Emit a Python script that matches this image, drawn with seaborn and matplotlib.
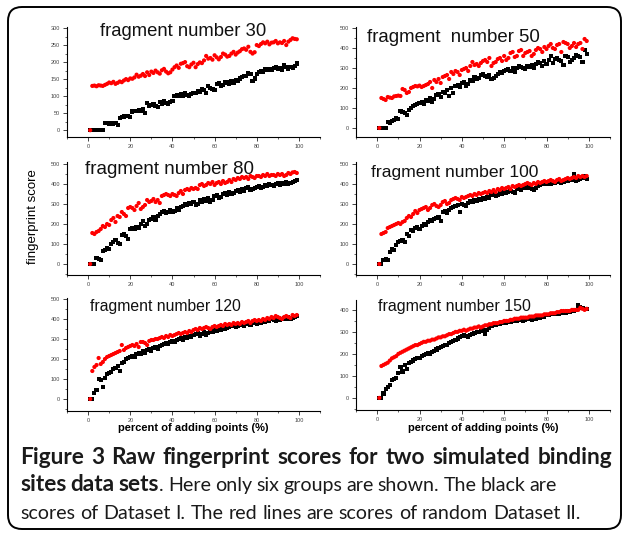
import matplotlib
matplotlib.use("Agg")
import matplotlib.pyplot as plt
import numpy as np
import pandas as pd
import seaborn as sns
from matplotlib.patches import FancyBboxPatch
from matplotlib.transforms import IdentityTransform
from matplotlib.ticker import MultipleLocator

W, H = 624, 533

# ---------------- data ----------------
x_percent = list(range(1, 100))

frag30_set1 = [0, 0, 0, 0, 0, 0, 0, 20, 22, 19,
               20, 18, 22, 15, 35, 38, 40, 41, 42, 38,
               55, 57, 56, 60, 58, 62, 50, 80, 72, 75,
               78, 70, 68, 82, 78, 85, 80, 78, 82, 85,
               100, 103, 102, 105, 100, 108, 104, 102, 106, 110,
               108, 115, 112, 120, 118, 110, 130, 125, 122, 118,
               135, 138, 130, 132, 140, 142, 136, 145, 140, 148,
               145, 152, 155, 158, 160, 168, 165, 145, 152, 165,
               170, 175, 172, 178, 176, 180, 178, 182, 185, 180,
               183, 178, 192, 185, 180, 186, 182, 188, 196]
frag30_set2 = [0, 130, 131, 129, 132, 131, 130, 133, 136, 140,
               138, 142, 136, 139, 143, 141, 146, 150, 147, 152,
               151, 155, 163, 157, 160, 165, 159, 170, 162, 172,
               168, 175, 170, 166, 176, 180, 172, 167, 170, 178,
               185, 190, 183, 195, 197, 200, 188, 185, 193, 198,
               185, 194, 199, 197, 205, 218, 210, 212, 207, 220,
               214, 208, 215, 225, 222, 216, 218, 225, 230, 222,
               228, 232, 238, 240, 236, 245, 230, 225, 229, 250,
               247, 253, 258, 255, 260, 252, 257, 258, 262, 255,
               258, 256, 262, 250, 260, 265, 270, 268, 267]

frag50_set1 = [0, 0, 0, 0, 30, 25, 35, 40, 50, 45,
               85, 80, 75, 65, 90, 100, 110, 115, 120, 125,
               130, 120, 140, 135, 150, 130, 145, 165, 170, 155,
               180, 175, 190, 160, 200, 175, 210, 215, 205, 225,
               230, 210, 220, 240, 235, 255, 245, 250, 265, 270,
               260, 255, 265, 245, 250, 260, 270, 280, 275, 285,
               290, 295, 285, 300, 280, 300, 310, 305, 300, 295,
               310, 305, 315, 300, 320, 330, 325, 310, 335, 320,
               340, 360, 325, 345, 350, 340, 335, 315, 360, 355,
               330, 340, 350, 365, 360, 355, 330, 390, 370]
frag50_set2 = [0, 150, 145, 140, 155, 152, 150, 158, 160, 162,
               160, 195, 190, 175, 180, 200, 205, 210, 208, 212,
               205, 210, 215, 220, 230, 200, 240, 230, 245, 225,
               255, 260, 265, 245, 280, 270, 285, 280, 265, 290,
               295, 300, 285, 310, 330, 315, 320, 310, 325, 335,
               340, 330, 350, 310, 325, 330, 345, 350, 335, 360,
               340, 350, 375, 380, 355, 360, 385, 390, 360, 375,
               380, 385, 360, 370, 390, 400, 395, 380, 405, 395,
               410, 420, 400, 395, 415, 420, 380, 430, 425, 420,
               400, 410, 425, 405, 420, 425, 395, 445, 435]

frag80_set1 = [0, 0, 0, 30, 25, 20, 65, 70, 80, 75,
               100, 110, 120, 105, 100, 145, 150, 140, 125, 175,
               180, 175, 185, 180, 200, 215, 190, 200, 220, 225,
               235, 220, 240, 250, 260, 265, 255, 260, 270, 260,
               265, 280, 270, 285, 290, 300, 295, 305, 300, 310,
               295, 300, 320, 310, 325, 315, 330, 310, 320, 340,
               345, 330, 335, 350, 355, 345, 360, 350, 355, 365,
               370, 360, 375, 365, 380, 385, 370, 375, 380, 385,
               390, 380, 385, 395, 390, 400, 395, 390, 400, 405,
               395, 405, 400, 410, 400, 405, 410, 415, 420]
frag80_set2 = [0, 155, 150, 160, 165, 175, 190, 185, 200, 195,
               220, 230, 210, 240, 235, 260, 250, 240, 280, 285,
               280, 270, 290, 305, 275, 285, 295, 320, 310, 315,
               325, 310, 320, 305, 340, 345, 350, 345, 340, 350,
               345, 340, 355, 365, 350, 370, 375, 370, 380, 375,
               380, 375, 395, 400, 390, 395, 405, 400, 410, 395,
               405, 410, 400, 415, 405, 410, 420, 410, 425, 420,
               430, 425, 435, 430, 435, 425, 440, 435, 430, 440,
               440, 435, 445, 440, 450, 440, 445, 445, 440, 450,
               445, 450, 440, 445, 455, 450, 458, 460, 455]

frag100_set1 = [0, 0, 20, 25, 20, 60, 75, 70, 95, 110,
                115, 120, 110, 150, 140, 170, 165, 180, 185, 175,
                190, 200, 195, 210, 220, 215, 225, 230, 235, 215,
                260, 265, 255, 270, 280, 285, 290, 295, 260, 300,
                295, 290, 305, 315, 310, 320, 315, 325, 320, 330,
                325, 335, 330, 345, 350, 340, 345, 355, 350, 360,
                355, 360, 365, 360, 355, 375, 380, 370, 385, 380,
                385, 380, 375, 370, 380, 390, 395, 400, 405, 400,
                405, 400, 410, 405, 410, 415, 405, 410, 420, 415,
                425, 420, 450, 415, 420, 425, 430, 440, 425]
frag100_set2 = [0, 150, 155, 160, 180, 185, 190, 195, 200, 205,
                200, 210, 215, 230, 240, 235, 250, 265, 255, 270,
                275, 280, 285, 270, 280, 295, 300, 290, 285, 295,
                310, 315, 300, 305, 320, 325, 330, 325, 320, 335,
                330, 335, 340, 345, 340, 350, 345, 355, 350, 355,
                360, 355, 365, 360, 370, 360, 375, 370, 380, 375,
                380, 385, 375, 390, 385, 390, 395, 390, 395, 400,
                405, 400, 395, 405, 400, 410, 405, 410, 415, 410,
                415, 420, 415, 410, 420, 425, 415, 420, 425, 430,
                425, 430, 435, 430, 440, 435, 440, 435, 440]

frag120_set1 = [0, 0, 30, 45, 100, 95, 60, 105, 125, 130,
                135, 150, 155, 165, 140, 180, 185, 200, 205, 210,
                215, 210, 225, 230, 225, 240, 230, 245, 250, 240,
                255, 260, 250, 265, 270, 275, 280, 275, 285, 290,
                285, 295, 300, 305, 295, 310, 305, 315, 310, 320,
                325, 330, 315, 325, 335, 320, 330, 340, 335, 345,
                340, 350, 345, 355, 350, 355, 360, 365, 370, 360,
                365, 370, 375, 365, 375, 380, 370, 380, 385, 375,
                385, 380, 390, 385, 395, 390, 400, 395, 390, 405,
                395, 400, 405, 400, 410, 400, 405, 410, 415]
frag120_set2 = [0, 140, 160, 170, 205, 175, 185, 200, 210, 215,
                220, 225, 230, 235, 240, 270, 245, 255, 260, 265,
                270, 265, 275, 260, 285, 285, 280, 270, 290, 295,
                295, 300, 300, 305, 310, 305, 315, 310, 320, 315,
                320, 325, 330, 325, 330, 335, 330, 340, 335, 345,
                350, 345, 355, 350, 355, 360, 355, 350, 360, 365,
                360, 365, 370, 365, 375, 370, 375, 370, 380, 375,
                380, 375, 385, 380, 385, 390, 380, 390, 395, 390,
                395, 390, 400, 395, 405, 400, 410, 405, 415, 410,
                405, 400, 410, 415, 410, 405, 420, 415, 420]

frag150_set1 = [0, 0, 20, 40, 50, 60, 80, 85, 90, 115,
                140, 120, 150, 130, 160, 165, 170, 175, 180, 180,
                190, 195, 200, 205, 200, 210, 215, 220, 225, 230,
                235, 240, 240, 250, 255, 260, 265, 270, 275, 280,
                285, 280, 275, 285, 290, 295, 300, 300, 305, 310,
                290, 310, 320, 325, 330, 330, 335, 335, 340, 340,
                340, 345, 345, 350, 350, 350, 355, 355, 350, 355,
                360, 360, 355, 365, 360, 365, 365, 370, 370, 375,
                375, 380, 380, 380, 385, 380, 385, 390, 385, 395,
                390, 395, 395, 400, 420, 415, 410, 405, 405]
frag150_set2 = [0, 145, 150, 155, 160, 170, 180, 185, 190, 200,
                205, 210, 215, 220, 225, 230, 235, 240, 240, 245,
                250, 255, 255, 260, 260, 265, 265, 270, 275, 275,
                280, 280, 285, 290, 290, 295, 300, 300, 305, 305,
                310, 305, 310, 315, 315, 320, 320, 325, 320, 325,
                330, 330, 335, 335, 340, 340, 340, 345, 345, 350,
                350, 350, 355, 355, 360, 360, 360, 365, 365, 365,
                365, 370, 370, 370, 375, 375, 375, 375, 380, 380,
                380, 385, 385, 385, 390, 390, 395, 395, 395, 395,
                395, 400, 400, 400, 400, 410, 405, 400, 405]

panel_titles = ["fragment number 30", "fragment  number 50", "fragment number 80",
                "fragment number 100", "fragment number 120", "fragment number 150"]
panel_set1 = [frag30_set1, frag50_set1, frag80_set1, frag100_set1, frag120_set1, frag150_set1]
panel_set2 = [frag30_set2, frag50_set2, frag80_set2, frag100_set2, frag120_set2, frag150_set2]
x_ticks = [0, 20, 40, 60, 80, 100]
x_label = "percent of adding points (%)"
y_label = "fingerprint score"
set_names = ["Dataset I", "Dataset II"]

caption_line1 = "Figure 3 Raw fingerprint scores for two simulated binding"
caption_line2_bold = "sites data sets"
caption_line2_rest = ". Here only six groups are shown. The black are"
caption_line3 = "scores of Dataset I. The red lines are scores of random Dataset II."

# ---------------- layout (pixels: left, top, right, bottom) ----------------
layout = [
    dict(rect=(67, 27, 320, 137), ylim=(-20, 303), ystep=50, title=(100, 31, 13.3)),
    dict(rect=(356, 27, 610, 137), ylim=(-45, 505), ystep=100, title=(367, 37, 13.4)),
    dict(rect=(67, 162, 320, 275), ylim=(-55, 510), ystep=100, title=(85, 169, 13.5)),
    dict(rect=(356, 162, 610, 275), ylim=(-55, 510), ystep=100, title=(371, 173, 12.6)),
    dict(rect=(67, 298, 320, 411), ylim=(-60, 505), ystep=100, title=(90, 307, 11.3)),
    dict(rect=(356, 300, 610, 410), ylim=(-55, 445), ystep=100, title=(378, 306, 11.5)),
]

sns.set_style("ticks")
plt.rcParams['font.family'] = ['Liberation Sans', 'DejaVu Sans']

fig = plt.figure(figsize=(W / 100, H / 100), dpi=100)
fig.patch.set_facecolor("white")


def fx(px):
    return px / W


def fy(py):
    return 1 - py / H


palette = {set_names[0]: "black", set_names[1]: "red"}
markers = {set_names[0]: "s", set_names[1]: "o"}

for i, lay in enumerate(layout):
    l, t, r, b = lay["rect"]
    ax = fig.add_axes([fx(l), fy(b), (r - l) / W, (b - t) / H])
    df = pd.DataFrame({
        "x": x_percent + x_percent,
        "score": panel_set1[i] + panel_set2[i],
        "set": [set_names[0]] * len(x_percent) + [set_names[1]] * len(x_percent),
    })
    sns.scatterplot(data=df, x="x", y="score", hue="set", style="set",
                    palette=palette, markers=markers, s=9, linewidth=0,
                    legend=False, ax=ax, zorder=3)
    ax.set_xlim(-10, 110)
    ax.set_ylim(*lay["ylim"])
    ax.set_xticks(x_ticks)
    ax.xaxis.set_minor_locator(MultipleLocator(10))
    ax.yaxis.set_major_locator(MultipleLocator(lay["ystep"]))
    ax.yaxis.set_minor_locator(MultipleLocator(lay["ystep"] / 2))
    ax.set_xlabel("")
    ax.set_ylabel("")
    ax.set_facecolor("white")
    for s in ["top", "right"]:
        ax.spines[s].set_visible(False)
    for s in ["left", "bottom"]:
        ax.spines[s].set_linewidth(0.8)
        ax.spines[s].set_color("black")
    ax.tick_params(which="major", direction="out", length=3, width=0.6,
                   labelsize=4, labelcolor="#444", pad=2)
    ax.tick_params(which="minor", direction="out", length=1.6, width=0.5)
    tx, ty, ts = lay["title"]
    fig.text(fx(tx), fy(ty), panel_titles[i], fontsize=ts, ha="left", va="center",
             color="#111", family=["Liberation Sans", "DejaVu Sans"])

# axis labels
fig.text(fx(33), fy(217), y_label, rotation=90, ha="center", va="center",
         fontsize=9.5, color="black")
fig.text(fx(193), fy(428), x_label, ha="center", va="center",
         fontsize=8, fontweight="bold", color="black")
fig.text(fx(483), fy(428), x_label, ha="center", va="center",
         fontsize=8, fontweight="bold", color="black")

# rounded border
border = FancyBboxPatch((8, H - 529), 613, 522, boxstyle="round,pad=0,rounding_size=14",
                        transform=IdentityTransform(), fill=False,
                        edgecolor="black", linewidth=1.4)
fig.add_artist(border)

# caption
renderer = fig.canvas.get_renderer()
cap_family = ["Lato", "DejaVu Sans"]


def make_text(s, size, weight, y):
    return fig.text(0, fy(y), s, fontsize=size, fontweight=weight, family=cap_family,
                    ha="left", va="baseline", color="#1a1a1a")


def width_of(tobj):
    return tobj.get_window_extent(renderer=renderer).width


def fit_size(s, weight, target):
    probe = make_text(s, 12, weight, 600)
    w = width_of(probe)
    probe.remove()
    return 12 * target / w


cap_size = fit_size(caption_line3, "normal", 580 - 20)
bold_size = fit_size(caption_line1, "bold", 612 - 20 - 18)


def place_words(words, x0, y, x1=None):
    objs = []
    widths = []
    for word in words:
        parts = []
        ww = 0
        for txt, wt in word:
            size = bold_size if wt == "bold" else cap_size
            tobj = make_text(txt, size, wt, y)
            w = width_of(tobj)
            parts.append((tobj, w))
            ww += w
        objs.append(parts)
        widths.append(ww)
    a = make_text("a a", cap_size, "normal", y)
    b2 = make_text("aa", cap_size, "normal", y)
    space = width_of(a) - width_of(b2)
    a.remove()
    b2.remove()
    if x1 is not None and len(words) > 1:
        gap = (x1 - x0 - sum(widths)) / (len(words) - 1)
    else:
        gap = space
    x = x0
    for parts, ww in zip(objs, widths):
        xx = x
        for tobj, w in parts:
            tobj.set_x(fx(xx))
            xx += w
        x += ww + gap


line1_words = [[(w, "bold")] for w in caption_line1.split(" ")]
place_words(line1_words, 20, 464, x1=612)

bold_words = caption_line2_bold.split(" ")
rest_words = caption_line2_rest.split(" ")
line2_words = [[(w, "bold")] for w in bold_words[:-1]]
line2_words.append([(bold_words[-1], "bold"), (rest_words[0], "normal")])
line2_words += [[(w, "normal")] for w in rest_words[1:]]
place_words(line2_words, 20, 491, x1=557)

line3_words = [[(w, "normal")] for w in caption_line3.split(" ")]
place_words(line3_words, 20, 519)

fig.savefig("out.png", dpi=100, facecolor="white")
